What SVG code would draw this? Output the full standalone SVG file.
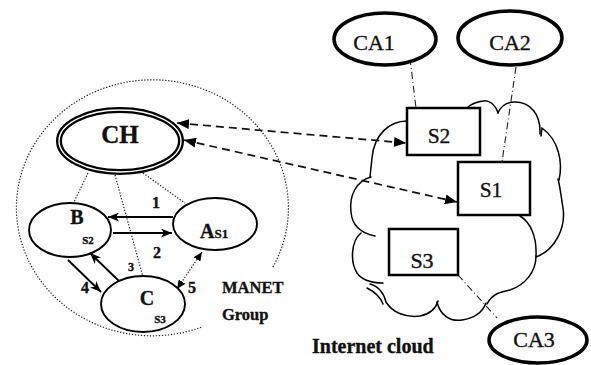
<svg xmlns="http://www.w3.org/2000/svg" width="591" height="365" viewBox="0 0 591 365">
  <style>
    text { font-family: "Liberation Serif", "Times New Roman", serif; fill: #111; stroke: #111; stroke-width: 0.35; }
    .b { font-weight: bold; }
    .node { fill: #fff; stroke: #000; stroke-width: 1.9; }
    .ca { fill: #fff; stroke: #000; stroke-width: 3.5; }
    .box { fill: #fff; stroke: #000; stroke-width: 2.5; }
    .solid { fill: none; stroke: #000; stroke-width: 1.9; marker-end: url(#sh); }
    .dot { fill: none; stroke: #222; stroke-width: 1.2; stroke-dasharray: 1.3 1.7; }
    .dashdot { fill: none; stroke: #222; stroke-width: 1.1; stroke-dasharray: 7 3 1 3; }
    .dash { fill: none; stroke: #111; stroke-width: 1.7; stroke-dasharray: 8 5; marker-start: url(#dh); marker-end: url(#dh); }
    .cloud { fill: none; stroke: #000; stroke-width: 1.5; stroke-linecap: round; }
  </style>
  <defs>
    <marker id="dh" viewBox="0 0 12 10" refX="12" refY="5" markerWidth="12" markerHeight="10" markerUnits="userSpaceOnUse" orient="auto-start-reverse">
      <path d="M0,0 L12,5 L0,10 z" fill="#000"/>
    </marker>
    <marker id="sh" viewBox="0 0 11 9" refX="11" refY="4.5" markerWidth="11" markerHeight="9" markerUnits="userSpaceOnUse" orient="auto-start-reverse">
      <path d="M0,0 L11,4.5 L0,9 L3,4.5 z" fill="#000"/>
    </marker>
    <marker id="th" viewBox="0 0 9 8" refX="9" refY="4" markerWidth="9" markerHeight="8" markerUnits="userSpaceOnUse" orient="auto-start-reverse">
      <path d="M0,0 L9,4 L0,8 z" fill="#000"/>
    </marker>
  </defs>

  <!-- MANET group boundary (open dotted circle) -->
  <path id="manet-boundary" class="dot" d="M273,267 A136,128 0 1 0 202,327"/>

  <!-- Internet cloud outline -->
  <g id="cloud">
    <path class="cloud" d="M407,121 C389,121 374,135 372,158 L370,177"/>
    <path class="cloud" d="M371,177 C356,181 349,196 351,212 C352,225 360,233 375,236"/>
    <path class="cloud" d="M361,233 C351,241 350,262 357,273 C362,280 370,283 383,283"/>
    <path class="cloud" d="M370,284 C378,286 384,293 386,302 C392,312 405,318 420,316 C430,314 436,308 438,301"/>
    <path class="cloud" d="M367,288 C375,292 380,296 383,304"/>
    <path class="cloud" d="M437,302 C440,315 450,322 462,320 C475,318 483,311 486,303"/>
    <path class="cloud" d="M487,304 C492,294 500,292 510,290 C525,285 536,272 536,256"/>
    <path class="cloud" d="M520,216 C530,222 537,236 536,256"/>
    <path class="cloud" d="M536,257 C555,250 566,228 563,208 C561,196 560,186 558,179"/>
    <path class="cloud" d="M559,180 C563,163 559,140 542,128 L541,136"/>
    <path class="cloud" d="M540,134 C541,114 530,102 515,102 C505,102 500,108 498,113"/>
    <path class="cloud" d="M498,113 C495,104 489,100 483,101 C476,102 470,105 467,108"/>
  </g>

  <!-- connectors -->
  <g id="connectors">
    <!-- dotted links from the cluster head -->
    <line class="dot" x1="88" y1="173" x2="73" y2="204"/>
    <line class="dot" x1="115" y1="175" x2="143" y2="277"/>
    <line class="dot" x1="143" y1="173" x2="185" y2="203"/>
    <!-- member exchanges -->
    <line class="solid" x1="173" y1="217" x2="108" y2="217"/>
    <line class="solid" x1="113" y1="233" x2="172" y2="233"/>
    <line class="solid" x1="68" y1="260" x2="101" y2="292"/>
    <line class="solid" x1="119" y1="281" x2="90" y2="253"/>
    <line class="dot" x1="202" y1="252" x2="177" y2="289" style="marker-start:url(#th);marker-end:url(#th)"/>
    <!-- cluster head to servers -->
    <line class="dash" x1="177" y1="123" x2="406" y2="143"/>
    <line class="dash" x1="184" y1="140" x2="457" y2="202"/>
    <!-- servers to certificate authorities -->
    <line class="dashdot" x1="410" y1="58" x2="416" y2="108"/>
    <line class="dashdot" x1="516" y1="67" x2="502" y2="162"/>
    <line class="dashdot" x1="458" y1="275" x2="497" y2="318"/>
  </g>

  <!-- connector labels -->
  <g id="labels">
    <text class="b" x="152" y="208" font-size="16">1</text>
    <text class="b" x="153" y="258" font-size="16">2</text>
    <text class="b" x="128" y="271" font-size="12">3</text>
    <text class="b" x="81" y="293" font-size="16">4</text>
    <text class="b" x="188" y="293" font-size="16">5</text>
  </g>

  <g id="CH">
    <ellipse cx="120" cy="141" rx="61" ry="31" fill="#fff" stroke="#000" stroke-width="6"/>
    <ellipse cx="120" cy="141" rx="61" ry="31" fill="none" stroke="#fff" stroke-width="1.4"/>
    <text class="b" x="120" y="143" font-size="25" text-anchor="middle">CH</text>
  </g>

  <g id="B">
    <ellipse class="node" cx="70" cy="230" rx="41" ry="27"/>
    <text class="b" x="77" y="224" font-size="20" text-anchor="middle">B</text>
    <text class="b" x="88" y="244" font-size="11" text-anchor="middle">S2</text>
  </g>

  <g id="A">
    <ellipse class="node" cx="215" cy="224" rx="42" ry="26"/>
    <text class="b" x="200" y="238" font-size="20">A<tspan font-size="13">S1</tspan></text>
  </g>

  <g id="C">
    <ellipse class="node" cx="143" cy="304" rx="42" ry="28"/>
    <text class="b" x="147" y="305" font-size="20" text-anchor="middle">C</text>
    <text class="b" x="160" y="323" font-size="11" text-anchor="middle">S3</text>
  </g>

  <g id="manet-label">
    <text class="b" x="222" y="293" font-size="16.5">MANET</text>
    <text class="b" x="222" y="320" font-size="16.5">Group</text>
  </g>

  <g id="S2">
    <rect class="box" x="407" y="108" width="73" height="47"/>
    <text x="439" y="143" font-size="21.5" text-anchor="middle">S2</text>
  </g>

  <g id="S1">
    <rect class="box" x="458" y="162" width="72" height="53"/>
    <text x="491" y="197" font-size="21.5" text-anchor="middle">S1</text>
  </g>

  <g id="S3">
    <rect class="box" x="389" y="229" width="69" height="46"/>
    <text x="422" y="268" font-size="22" text-anchor="middle">S3</text>
  </g>

  <g id="CA1">
    <ellipse class="ca" cx="385" cy="39" rx="51" ry="26"/>
    <text x="374" y="50" font-size="22" text-anchor="middle">CA1</text>
  </g>

  <g id="CA2">
    <ellipse class="ca" cx="510" cy="38" rx="52" ry="27"/>
    <text x="510" y="50" font-size="22" text-anchor="middle">CA2</text>
  </g>

  <g id="CA3">
    <ellipse class="ca" cx="538" cy="340" rx="49" ry="23"/>
    <text x="534" y="347" font-size="22" text-anchor="middle">CA3</text>
  </g>

  <text class="b" x="312" y="353" font-size="20">Internet cloud</text>
</svg>
